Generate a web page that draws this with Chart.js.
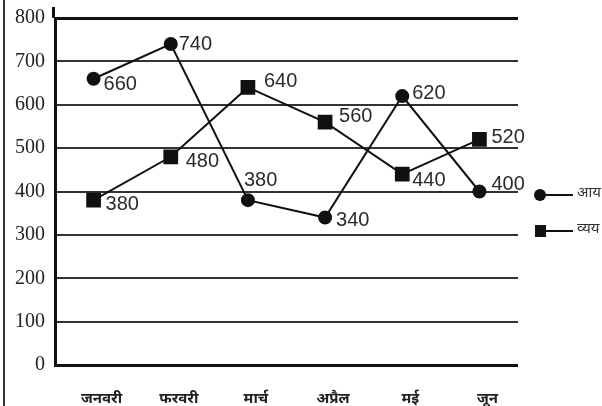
<!DOCTYPE html>
<html lang="hi">

<head>
    <meta charset="UTF-8">
    <title>आय और व्यय</title>
    <script src="https://cdn.jsdelivr.net/npm/chart.js"></script>
    <style>
        html, body {
            margin: 0;
            padding: 0;
            background: #fff;
        }

        .chart-box {
            position: relative;
            width: 602px;
            height: 406px;
        }
    </style>
</head>

<body>
    <div class="chart-box">
        <canvas id="incomeChart"></canvas>
    </div>

    <script>
        // data
        const months = ['जनवरी', 'फरवरी', 'मार्च', 'अप्रैल', 'मई', 'जून'];
        const income = [660, 740, 380, 340, 620, 400];
        const expense = [380, 480, 640, 560, 440, 520];
        const seriesNames = ['आय', 'व्यय'];
        const yTicks = [0, 100, 200, 300, 400, 500, 600, 700, 800];

        // where each value label sits relative to its marker [dx, dy]
        const incomeNudge = [[10, 6], [8, 0], [-4, -20], [11, 3], [10, -3], [12, -7]];
        const expenseNudge = [[12, 4], [15, 5], [16, -6], [14, -6], [10, 6], [12, -2]];

        const hindiFont = '"Noto Sans Devanagari", "Lohit Devanagari", "Mangal", "FreeSans", sans-serif';

        // value labels, legend, frame line
        const extras = {
            id: 'extras',
            afterDatasetsDraw(chart) {
                const ctx = chart.ctx;
                const nudges = [incomeNudge, expenseNudge];
                ctx.save();
                ctx.font = '20px "Liberation Sans", Arial, sans-serif';
                ctx.fillStyle = '#2b2b2b';
                ctx.textAlign = 'left';
                ctx.textBaseline = 'middle';
                chart.data.datasets.forEach((ds, di) => {
                    chart.getDatasetMeta(di).data.forEach((pt, i) => {
                        const [dx, dy] = nudges[di][i];
                        ctx.fillText(String(ds.data[i]), pt.x + dx, pt.y + dy);
                    });
                });

                // y axis runs a little above the 800 line
                const area = chart.chartArea;
                ctx.strokeStyle = '#111';
                ctx.lineWidth = 3;
                ctx.beginPath();
                ctx.moveTo(area.left - 1.5, 7);
                ctx.lineTo(area.left - 1.5, area.top);
                ctx.stroke();

                // frame on the left edge
                ctx.strokeStyle = '#333';
                ctx.lineWidth = 2;
                ctx.beginPath();
                ctx.moveTo(4, 0);
                ctx.lineTo(4, chart.height);
                ctx.stroke();

                // legend
                const rows = [195, 231];
                ctx.font = '15px ' + hindiFont;
                chart.data.datasets.forEach((ds, di) => {
                    const y = rows[di];
                    ctx.strokeStyle = '#111';
                    ctx.fillStyle = '#111';
                    ctx.lineWidth = 2;
                    ctx.beginPath();
                    ctx.moveTo(540, y);
                    ctx.lineTo(573, y);
                    ctx.stroke();
                    if (ds.pointStyle === 'circle') {
                        ctx.beginPath();
                        ctx.arc(540, y, 6, 0, Math.PI * 2);
                        ctx.fill();
                    } else {
                        ctx.fillRect(535, y - 6, 11, 12);
                    }
                    ctx.fillStyle = '#333';
                    ctx.fillText(ds.label, 577, y - 1);
                });
                ctx.restore();
            }
        };

        const ctx = document.getElementById('incomeChart').getContext('2d');
        new Chart(ctx, {
            type: 'line',
            data: {
                labels: months,
                datasets: [{
                    label: seriesNames[0],
                    data: income,
                    borderColor: '#111',
                    backgroundColor: '#111',
                    borderWidth: 2,
                    pointStyle: 'circle',
                    pointRadius: 6,
                    tension: 0
                }, {
                    label: seriesNames[1],
                    data: expense,
                    borderColor: '#111',
                    backgroundColor: '#111',
                    borderWidth: 2,
                    pointStyle: 'rect',
                    pointRadius: 9,
                    tension: 0
                }]
            },
            options: {
                responsive: true,
                maintainAspectRatio: false,
                animation: false,
                layout: {
                    padding: { left: 0, right: 84, top: 18, bottom: 0 }
                },
                plugins: {
                    legend: { display: false },
                    tooltip: { enabled: false }
                },
                scales: {
                    x: {
                        offset: true,
                        grid: { display: false },
                        border: { display: false },
                        ticks: {
                            color: '#222',
                            font: { family: hindiFont, size: 15, weight: 'bold' },
                            labelOffset: 8,
                            padding: 18,
                            maxRotation: 0
                        },
                        afterFit(scale) {
                            scale.height = 41;
                        }
                    },
                    y: {
                        min: 0,
                        max: 800,
                        afterBuildTicks(scale) {
                            scale.ticks = yTicks.map(v => ({ value: v }));
                        },
                        grid: {
                            drawTicks: false,
                            color: ctx => (ctx.tick.value === 0 || ctx.tick.value === 800) ? '#111' : '#333',
                            lineWidth: ctx => (ctx.tick.value === 0 || ctx.tick.value === 800) ? 3 : 2
                        },
                        border: { display: true, color: '#111', width: 3 },
                        ticks: {
                            color: '#222',
                            font: { family: '"Liberation Serif", "Times New Roman", serif', size: 20 },
                            padding: 10
                        },
                        afterFit(scale) {
                            scale.width = 55;
                            scale.paddingTop = 0;
                            scale.paddingBottom = 0;
                        }
                    }
                }
            },
            plugins: [extras]
        });
    </script>
</body>

</html>
